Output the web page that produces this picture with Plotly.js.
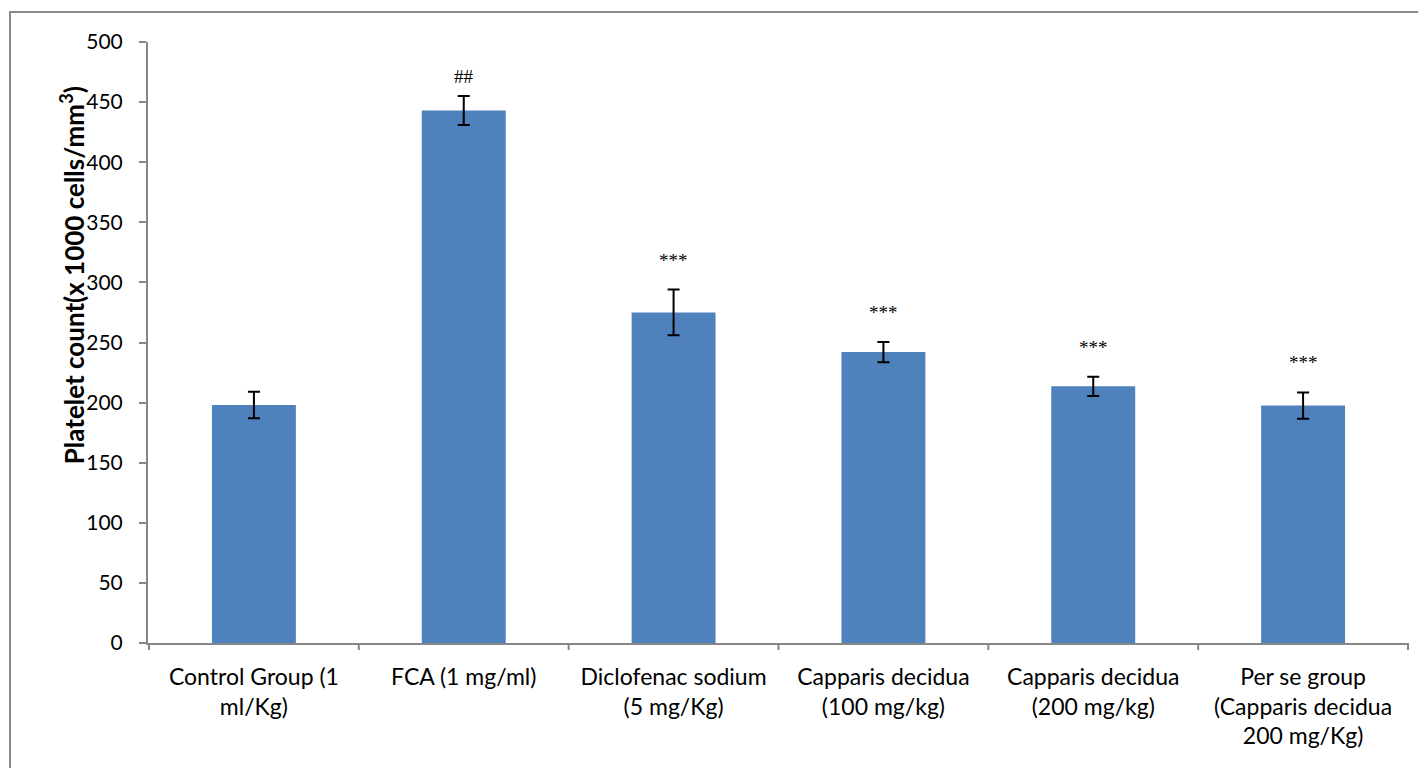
<!DOCTYPE html>
<html>
<head>
<meta charset="utf-8">
<script src="https://cdn.plot.ly/plotly-3.0.1.min.js"></script>
<style>
  html, body { margin: 0; padding: 0; background: #fff; overflow: hidden; }
  #chart { width: 1418px; height: 768px; }
  #frame {
    position: absolute; left: 9px; top: 11px; width: 1500px; height: 1000px;
    border: 2px solid #8a8a8a; pointer-events: none; box-sizing: border-box;
  }
</style>
</head>
<body>
<div id="chart"></div>
<div id="frame"></div>
<script>
// Treatment groups
const groups = [
  'Control Group (1<br>ml/Kg)',
  'FCA (1 mg/ml)',
  'Diclofenac sodium<br>(5 mg/Kg)',
  'Capparis decidua<br>(100 mg/kg)',
  'Capparis decidua<br>(200 mg/kg)',
  'Per se group<br>(Capparis decidua<br>200 mg/Kg)'
];
// Mean platelet count (x 1000 cells/mm3) and SEM
const platelets = [198, 443, 275, 242, 213.5, 197.5];
const sem = [11, 12, 19, 8.5, 8, 11];
// Significance markers
const marks = ['', '##', '***', '***', '***', '***'];
const yTitle = '<b>Platelet count(x 1000 cells/mm<sup>3</sup>)</b>';

const barTrace = {
  type: 'bar',
  x: groups,
  y: platelets,
  marker: { color: '#4F81BD' },
  error_y: { type: 'data', array: sem, visible: true, color: '#000', thickness: 2, width: 6 },
  hoverinfo: 'x+y'
};

const annotations = [];
marks.forEach((m, i) => {
  if (!m) return;
  annotations.push({
    x: groups[i],
    y: platelets[i] + sem[i],
    xref: 'x', yref: 'y',
    text: m,
    showarrow: false,
    yanchor: 'bottom',
    yshift: m === '##' ? 7 : 17,
    font: { family: 'Liberation Serif, serif', size: 19, color: '#000' }
  });
});

// Vertical axis title, placed a little above the plot's middle
annotations.push({
  xref: 'paper', yref: 'paper',
  x: 0, y: 0.612,
  xanchor: 'center', yanchor: 'middle',
  xshift: -76,
  textangle: -90,
  showarrow: false,
  text: yTitle,
  font: { family: 'Lato, sans-serif', size: 26, color: '#000' }
});

// Category boundary ticks below the x axis
const boundaryTicks = [];
for (let i = 0; i <= groups.length; i++) {
  boundaryTicks.push({
    type: 'line', xref: 'x', yref: 'paper', ysizemode: 'pixel', yanchor: 0,
    x0: i - 0.5, x1: i - 0.5, y0: -7, y1: 0,
    line: { color: '#868686', width: 2 }
  });
}

const layout = {
  width: 1418, height: 768,
  margin: { l: 148, r: 9, t: 42, b: 125 },
  paper_bgcolor: '#fff', plot_bgcolor: '#fff',
  bargap: 0.6,
  showlegend: false,
  font: { family: 'Lato, sans-serif', size: 20, color: '#000' },
  xaxis: {
    type: 'category',
    showline: true, linecolor: '#868686', linewidth: 2,
    ticks: '', showgrid: false,
    tickfont: { family: 'Lato, sans-serif', size: 23, color: '#000' },
    ticklabelstandoff: 12,
    fixedrange: true
  },
  yaxis: {
    range: [0, 500], dtick: 50, tick0: 0,
    showline: true, linecolor: '#868686', linewidth: 2,
    ticks: 'outside', ticklen: 7, tickwidth: 2, tickcolor: '#868686',
    showgrid: false, zeroline: false,
    tickfont: { family: 'Lato, sans-serif', size: 21, color: '#000' },
    ticklabelstandoff: 12,
    fixedrange: true
  },
  shapes: boundaryTicks,
  annotations: annotations
};

Plotly.newPlot('chart', [barTrace], layout, { displayModeBar: false, staticPlot: true });
</script>
</body>
</html>
